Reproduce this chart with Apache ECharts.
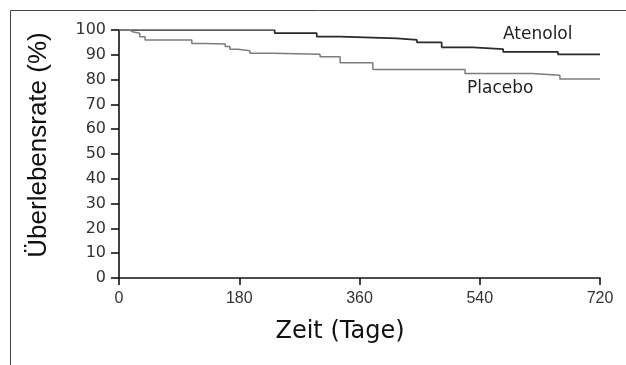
<!DOCTYPE html>
<html>
<head>
<meta charset="utf-8">
<script src="https://cdn.jsdelivr.net/npm/echarts@6/dist/echarts.min.js"></script>
<style>
  html, body { margin: 0; padding: 0; background: #fff; }
  #chart { width: 626px; height: 365px; }
</style>
</head>
<body>
<div id="chart"></div>
<script>
// Kaplan-Meier Kurven, Werte (Tag, Überlebensrate %)
const atenololDays = [0, 233, 296, 331, 416, 446, 483, 530, 575, 657, 720];
const atenololRate = [100, 98.7, 97.3, 96.6, 96.0, 95.0, 93.0, 92.3, 91.2, 90.2, 90.2];

const placeboDays = [0, 16, 20, 31, 39, 109, 129, 159, 166, 178, 196, 229, 301, 331, 380, 518, 618, 660, 720];
const placeboRate = [100, 99.3, 98.7, 97.3, 96.0, 94.6, 94.4, 93.3, 92.2, 91.6, 90.6, 90.2, 89.2, 86.8, 84.1, 82.5, 81.8, 80.2, 80.2];

const xTicks = [0, 180, 360, 540, 720];
const yTicks = [0, 10, 20, 30, 40, 50, 60, 70, 80, 90, 100];

const sans = 'Liberation Sans, Arial, sans-serif';
const wide = 'DejaVu Sans, sans-serif';

function pairs(xs, ys) {
    return xs.map(function (x, i) { return [x, ys[i]]; });
}

var dom = document.getElementById('chart');
var chart = echarts.init(dom, null, { renderer: 'canvas' });

chart.setOption({
    animation: false,
    backgroundColor: '#fff',
    grid: { left: 119, right: 26, top: 30, bottom: 87 },
    xAxis: {
        type: 'value',
        min: xTicks[0],
        max: xTicks[xTicks.length - 1],
        interval: 180,
        axisLine: { lineStyle: { color: '#111', width: 1.6 } },
        axisTick: { length: 7, lineStyle: { color: '#111', width: 1.6 } },
        axisLabel: { fontFamily: sans, fontSize: 16, color: '#333', margin: 13 },
        splitLine: { show: false }
    },
    yAxis: {
        type: 'value',
        min: yTicks[0],
        max: yTicks[yTicks.length - 1],
        interval: 10,
        axisLine: { show: true, lineStyle: { color: '#111', width: 1.6 } },
        axisTick: { show: true, length: 8, lineStyle: { color: '#111', width: 1.6 } },
        axisLabel: { fontFamily: wide, fontSize: 16, color: '#333', margin: 13 },
        splitLine: { show: false }
    },
    series: [
        {
            name: 'Atenolol',
            type: 'line',
            step: 'end',
            symbol: 'none',
            data: pairs(atenololDays, atenololRate),
            lineStyle: { color: '#2a2a2a', width: 1.7 }
        },
        {
            name: 'Placebo',
            type: 'line',
            step: 'end',
            symbol: 'none',
            data: pairs(placeboDays, placeboRate),
            lineStyle: { color: '#7d7d7d', width: 1.5 }
        }
    ],
    graphic: [
        { type: 'line', shape: { x1: 10.5, y1: 10.5, x2: 626, y2: 10.5 }, style: { stroke: '#444', lineWidth: 1 } },
        { type: 'line', shape: { x1: 10.5, y1: 10.5, x2: 10.5, y2: 365 }, style: { stroke: '#444', lineWidth: 1 } },
        { type: 'text', x: 503, y: 35, style: { text: 'Atenolol', font: '17px ' + wide, fill: '#222', textVerticalAlign: 'middle' } },
        { type: 'text', x: 467, y: 89, style: { text: 'Placebo', font: '17px ' + wide, fill: '#222', textVerticalAlign: 'middle' } },
        { type: 'text', x: 340, y: 332, style: { text: 'Zeit (Tage)', font: '24px ' + wide, fill: '#111', textAlign: 'center', textVerticalAlign: 'middle' } },
        { type: 'text', x: 39, y: 145, rotation: Math.PI / 2, style: { text: 'Überlebensrate (%)', font: '26px ' + sans, fill: '#111', textAlign: 'center', textVerticalAlign: 'middle' } }
    ]
});
</script>
</body>
</html>
